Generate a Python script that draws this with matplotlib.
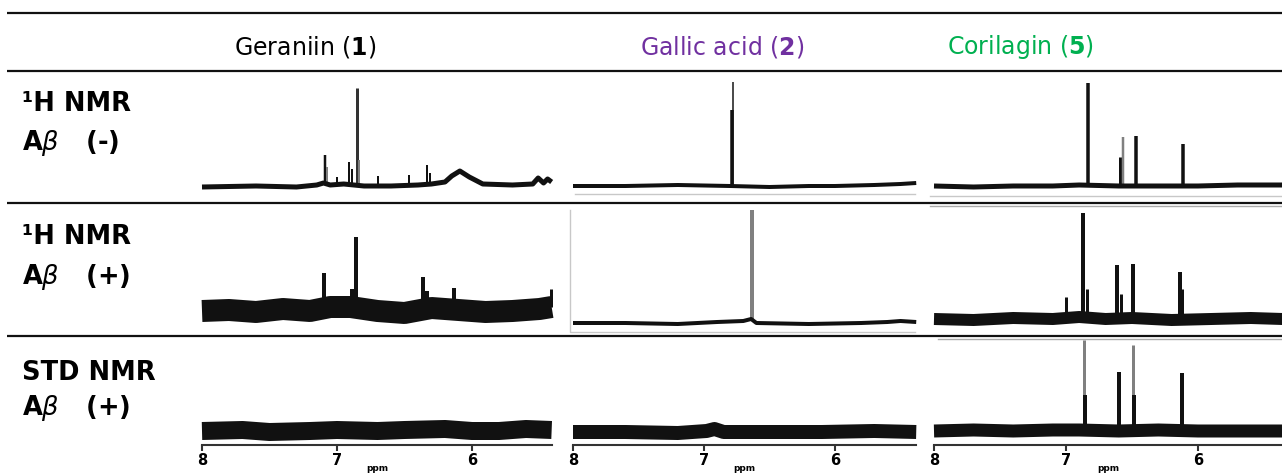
import numpy as np
import matplotlib.pyplot as plt

W, H = 1282, 475

# column headers
compounds = ['Geraniin', 'Gallic acid', 'Corilagin']
compound_nums = ['1', '2', '5']
compound_colors = ['black', '#7030A0', '#00B050']
# row headers
row_titles = ['\u00b9H NMR', '\u00b9H NMR', 'STD NMR']
row_conds = ['(-)', '(+)', '(+)']
ppm_ticks = [8, 7, 6]

K = '#111111'
G = '#808080'

# ---- spectra ----
# baseline: ppm points and offset (px above panel baseline)
# peaks: (ppm, height, colour, width px)
ger_free_ppm = [8.0, 7.6, 7.3, 7.15, 7.1, 7.05, 6.95, 6.8, 6.6, 6.4, 6.3, 6.2, 6.15, 6.09, 6.02, 5.92, 5.7, 5.55, 5.51, 5.47, 5.44, 5.41]
ger_free_off = [0, 1, 0, 2, 4, 2, 3, 1, 1, 2, 3, 5, 11, 16, 10, 3, 2, 3, 9, 4, 8, 5]
ger_free_peaks = [(7.09, 32, K, 2.5), (7.075, 20, G, 2), (7.00, 10, K, 2), (6.91, 25, K, 2),
                  (6.89, 18, K, 2), (6.85, 99, '#333333', 3), (6.835, 27, G, 2),
                  (6.70, 11, K, 2), (6.47, 12, K, 2), (6.33, 22, K, 2), (6.31, 14, K, 2)]

gal_free_ppm = [8.0, 7.6, 7.2, 6.8, 6.5, 6.2, 6.0, 5.7, 5.5, 5.38]
gal_free_off = [0, 0, 1, 0, -1, 0, 0, 1, 2, 3]
gal_free_peaks = [(6.79, 76, K, 3.5), (6.775, 104, K, 1.5)]

cor_free_ppm = [8.0, 7.7, 7.4, 7.1, 6.9, 6.6, 6.3, 6.0, 5.7, 5.36]
cor_free_off = [0, -1, 0, 0, 1, 0, 0, 0, 1, 1]
cor_free_peaks = [(6.83, 103, K, 3.5), (6.59, 29, K, 3), (6.565, 49, G, 2.5),
                  (6.47, 50, K, 3.5), (6.11, 42, K, 3.5)]

ger_ab_ppm = [8.0, 7.8, 7.6, 7.4, 7.2, 7.05, 6.9, 6.7, 6.5, 6.3, 6.1, 5.9, 5.7, 5.5, 5.41]
ger_ab_off = [0, 1, -1, 2, 0, 4, 4, 0, -2, 3, 1, -1, 0, 2, 4]
ger_ab_peaks = [(7.10, 38, K, 4), (6.89, 22, K, 4), (6.86, 74, K, 4), (6.36, 34, K, 4),
                (6.33, 20, K, 4), (6.13, 23, K, 4), (5.415, 22, K, 3)]

gal_ab_ppm = [8.0, 7.6, 7.2, 6.9, 6.7, 6.64, 6.6, 6.2, 5.8, 5.6, 5.5, 5.38]
gal_ab_off = [0, 0, -1, 1, 2, 4, 0, -1, 0, 1, 2, 1]
gal_ab_peaks = [(6.63, 113, G, 4)]

cor_ab_ppm = [8.0, 7.7, 7.4, 7.1, 6.9, 6.7, 6.5, 6.2, 5.9, 5.6, 5.36]
cor_ab_off = [0, -1, 1, 0, 2, 0, 1, -1, 0, 1, 0]
cor_ab_peaks = [(7.00, 22, K, 3), (6.87, 106, K, 4), (6.84, 30, K, 3), (6.61, 54, K, 4),
                (6.58, 25, K, 3), (6.49, 55, K, 4), (6.14, 47, K, 4), (6.12, 30, K, 3)]

ger_std_ppm = [8.0, 7.7, 7.5, 7.2, 7.0, 6.7, 6.5, 6.2, 6.0, 5.8, 5.6, 5.41]
ger_std_off = [0, 1, -1, 0, 1, 0, 1, 2, 0, 0, 2, 1]
ger_std_peaks = []

gal_std_ppm = [8.0, 7.6, 7.2, 6.98, 6.92, 6.85, 6.5, 6.1, 5.7, 5.38]
gal_std_off = [0, 0, -1, 1, 3, 0, 0, 0, 1, 0]
gal_std_peaks = []

cor_std_ppm = [8.0, 7.7, 7.4, 7.1, 6.9, 6.6, 6.3, 6.0, 5.7, 5.36]
cor_std_off = [0, 1, 0, 1, 1, 0, 1, 0, 0, 0]
cor_std_peaks = [(6.86, 91, G, 3), (6.855, 36, K, 4), (6.60, 59, K, 4),
                 (6.49, 86, G, 3), (6.485, 36, K, 4), (6.12, 58, K, 4)]

# ---- layout (pixels) ----
col_left = [202, 573, 934]          # pixel of 8 ppm
col_scale = [135, 131, 132]         # px per ppm
col_xmax = [5.41, 5.38, 5.36]
row_top = [75, 205, 338]
row_bottom = [200, 333, 445]
base_px = [[187, 186, 186], [311, 323, 319], [431, 432, 431]]
base_thick = [[5, 4, 5], [22, 4, 12], [18, 14, 13]]

fig = plt.figure(figsize=(W / 100, H / 100), dpi=100)
ax0 = fig.add_axes([0, 0, 1, 1])
ax0.set_xlim(0, W)
ax0.set_ylim(H, 0)
ax0.axis('off')

# table rules
for y in [13, 71, 203, 336]:
    ax0.plot([7, W], [y, y], color=K, lw=1.6, solid_capstyle='butt')
# faint frames left over from the pasted spectra
ax0.plot([575, 915], [194, 194], color='#c8c8c8', lw=1)
ax0.plot([930, W], [196, 196], color='#c8c8c8', lw=1)
ax0.plot([930, W], [206, 206], color='#aaaaaa', lw=1)
ax0.plot([570, 570, 915], [210, 332, 332], color='#c8c8c8', lw=1)
ax0.plot([938, W], [339, 339], color='#aaaaaa', lw=1)

head_x = [305, 722, 1021]
for i in range(3):
    ax0.text(head_x[i], 47, compounds[i] + r' ($\mathbf{' + compound_nums[i] + '}$)',
             ha='center', va='center', fontsize=17, color=compound_colors[i])

title_y = [(104, 143), (237, 277), (373, 408)]
for i in range(3):
    ax0.text(22, title_y[i][0], row_titles[i], ha='left', va='center',
             fontsize=18.5, fontweight='bold')
    ax0.text(22, title_y[i][1], r'A$\beta$   ' + row_conds[i], ha='left', va='center',
             fontsize=18.5, fontweight='bold')

spectra = [[(ger_free_ppm, ger_free_off, ger_free_peaks),
            (gal_free_ppm, gal_free_off, gal_free_peaks),
            (cor_free_ppm, cor_free_off, cor_free_peaks)],
           [(ger_ab_ppm, ger_ab_off, ger_ab_peaks),
            (gal_ab_ppm, gal_ab_off, gal_ab_peaks),
            (cor_ab_ppm, cor_ab_off, cor_ab_peaks)],
           [(ger_std_ppm, ger_std_off, ger_std_peaks),
            (gal_std_ppm, gal_std_off, gal_std_peaks),
            (cor_std_ppm, cor_std_off, cor_std_peaks)]]

for r in range(3):
    for c in range(3):
        bppm, boff, peaks = spectra[r][c]
        l = col_left[c]
        rr = l + (8.0 - col_xmax[c]) * col_scale[c]
        t, b = row_top[r], row_bottom[r]
        bl = base_px[r][c]
        ax = fig.add_axes([l / W, 1 - b / H, (rr - l) / W, (b - t) / H])
        ax.patch.set_alpha(0)
        ax.set_xlim(8.0, col_xmax[c])
        ax.set_ylim(-(b - bl), bl - t)
        for p, h, col, w in peaks:
            y0 = np.interp(p, bppm[::-1], boff[::-1])
            ax.vlines(p, y0, h, colors=col, lw=w * 0.72, clip_on=False)
        ax.plot(bppm, boff, color=K, lw=base_thick[r][c] * 0.72,
                solid_capstyle='butt', solid_joinstyle='round', clip_on=False)
        for s in ['top', 'left', 'right']:
            ax.spines[s].set_visible(False)
        ax.set_yticks([])
        if r == 2:
            ax.spines['bottom'].set_linewidth(1.5)
            ax.spines['bottom'].set_color('#333333')
            ax.set_xticks(ppm_ticks)
            ax.set_xticklabels([str(v) for v in ppm_ticks], fontsize=10.5, fontweight='bold')
            ax.tick_params(axis='x', direction='out', length=4, width=1.5, color='#333333', pad=2)
            ax.set_xlabel('ppm', fontsize=6.5, fontweight='bold', labelpad=-3)
        else:
            ax.spines['bottom'].set_visible(False)
            ax.set_xticks([])

fig.savefig('out.png', dpi=100)
